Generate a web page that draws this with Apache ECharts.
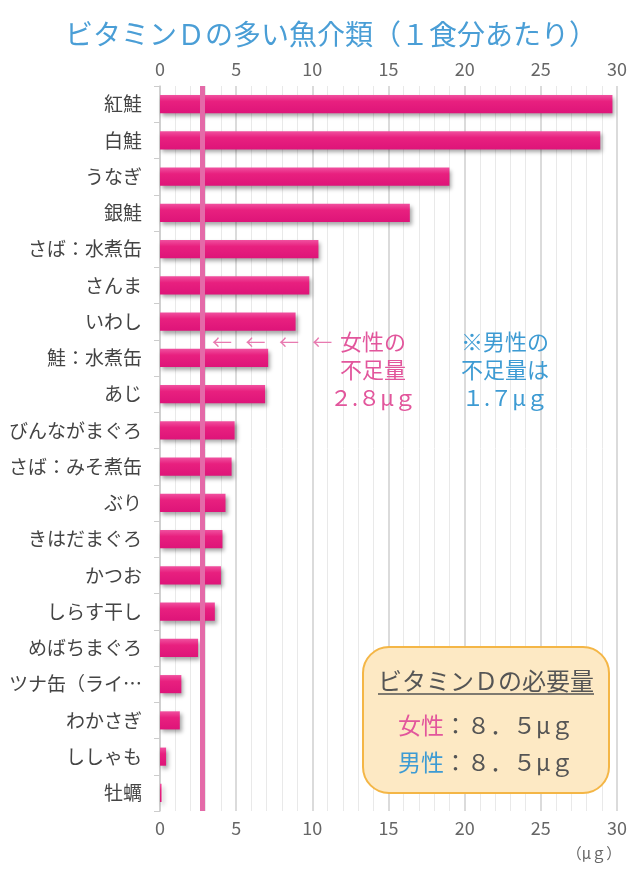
<!DOCTYPE html>
<html><head><meta charset="utf-8">
<script src="https://cdn.jsdelivr.net/npm/echarts@6/dist/echarts.min.js"></script>
<style>html,body{margin:0;padding:0;background:#fff}#c{width:640px;height:880px}</style>
</head><body><div id="c"></div>
<script>
const categories = ['紅鮭','白鮭','うなぎ','銀鮭','さば：水煮缶','さんま','いわし','鮭：水煮缶','あじ','びんながまぐろ','さば：みそ煮缶','ぶり','きはだまぐろ','かつお','しらす干し','めばちまぐろ','ツナ缶（ライ…','わかさぎ','ししゃも','牡蠣'];
const values = [29.7, 28.9, 19.0, 16.4, 10.4, 9.8, 8.9, 7.1, 6.9, 4.9, 4.7, 4.3, 4.1, 4.0, 3.6, 2.5, 1.4, 1.3, 0.4, 0.1];
const shortfallWomen = 2.8;
const xTicks = {min: 0, max: 30, interval: 5};

const FONT = '"Noto Sans CJK JP", "Noto Sans", sans-serif';
const chart = echarts.init(document.getElementById('c'), null, {renderer: 'canvas'});
const axisCommon = {
  type: 'value', min: xTicks.min, max: xTicks.max, interval: xTicks.interval,
  axisLine: {show: false}, axisTick: {show: false},
  axisLabel: {color: '#666', fontSize: 18, fontFamily: FONT, margin: 8}
};
chart.setOption({
  animation: false,
  grid: {left: 160, right: 23, top: 86, bottom: 69, containLabel: false},
  title: {
    text: 'ビタミンＤの多い魚介類（１食分あたり）', left: 60, top: 15,
    textStyle: {color: '#4a9ed6', fontSize: 28, fontWeight: 'normal', fontFamily: FONT}
  },
  xAxis: [
    Object.assign({}, axisCommon, {
      position: 'top',
      splitLine: {show: true, lineStyle: {color: '#cfcfcf', width: 1.5}},
      minorTick: {show: false, splitNumber: 5},
      minorSplitLine: {show: true, lineStyle: {color: '#e9e9e9', width: 1}}
    }),
    Object.assign({}, axisCommon, {position: 'bottom', splitLine: {show: false}})
  ],
  yAxis: {
    type: 'category', data: categories, inverse: true,
    axisLine: {show: true, lineStyle: {color: '#cccccc', width: 1.5}},
    axisTick: {show: true, length: 6, lineStyle: {color: '#cccccc'}},
    axisLabel: {color: '#444', fontSize: 19, fontFamily: FONT, margin: 18}
  },
  series: [{
    type: 'bar', xAxisIndex: 0, data: values, barWidth: '50%',
    itemStyle: {
      color: new echarts.graphic.LinearGradient(0, 0, 0, 1, [
        {offset: 0, color: '#f0509f'}, {offset: 0.35, color: '#e8207f'}, {offset: 1, color: '#de1479'}
      ]),
      shadowBlur: 4, shadowOffsetX: 2, shadowOffsetY: 3, shadowColor: 'rgba(0,0,0,0.35)'
    },
    markLine: {
      silent: true, symbol: 'none', label: {show: false},
      lineStyle: {color: '#e46aa8', width: 5, type: 'solid'},
      data: [{xAxis: shortfallWomen}]
    }
  }],
  graphic: [
    {type: 'text', z: 10, x: 212, y: 342, style: {text: '←   ←   ←   ←', fill: '#e87ab0', fontSize: 20, verticalAlign: 'middle', fontFamily: FONT}},
    {type: 'text', z: 10, x: 373, y: 328, style: {text: '女性の\n不足量\n２.８μｇ', fill: '#e2569c', fontSize: 22, lineHeight: 28, align: 'center', fontFamily: FONT}},
    {type: 'text', z: 10, x: 505, y: 328, style: {text: '※男性の\n不足量は\n１.７μｇ', fill: '#3d9bd3', fontSize: 22, lineHeight: 28, align: 'center', fontFamily: FONT}},
    {type: 'rect', z: 10, shape: {x: 363, y: 647, width: 246, height: 146, r: 26},
     style: {fill: '#fde9c4', stroke: '#f4b646', lineWidth: 2}},
    {type: 'text', z: 11, x: 486, y: 681, style: {text: 'ビタミンＤの必要量', fill: '#555', fontSize: 24, align: 'center', verticalAlign: 'middle', fontFamily: FONT}},
    {type: 'line', z: 11, shape: {x1: 378, y1: 694, x2: 594, y2: 694}, style: {stroke: '#555', lineWidth: 1.5}},
    {type: 'text', z: 11, x: 398, y: 725, style: {
      text: '{p|女性}{d|：８．５μｇ}', verticalAlign: 'middle',
      rich: {p: {fill: '#e2569c', fontSize: 23, fontFamily: FONT}, d: {fill: '#555', fontSize: 23, fontFamily: FONT}}}},
    {type: 'text', z: 11, x: 398, y: 762, style: {
      text: '{b|男性}{d|：８．５μｇ}', verticalAlign: 'middle',
      rich: {b: {fill: '#3d9bd3', fontSize: 23, fontFamily: FONT}, d: {fill: '#555', fontSize: 23, fontFamily: FONT}}}},
    {type: 'text', z: 10, x: 594, y: 853, style: {text: '（μｇ）', fill: '#666', fontSize: 15, align: 'center', verticalAlign: 'middle', fontFamily: FONT}}
  ]
});
</script></body></html>
